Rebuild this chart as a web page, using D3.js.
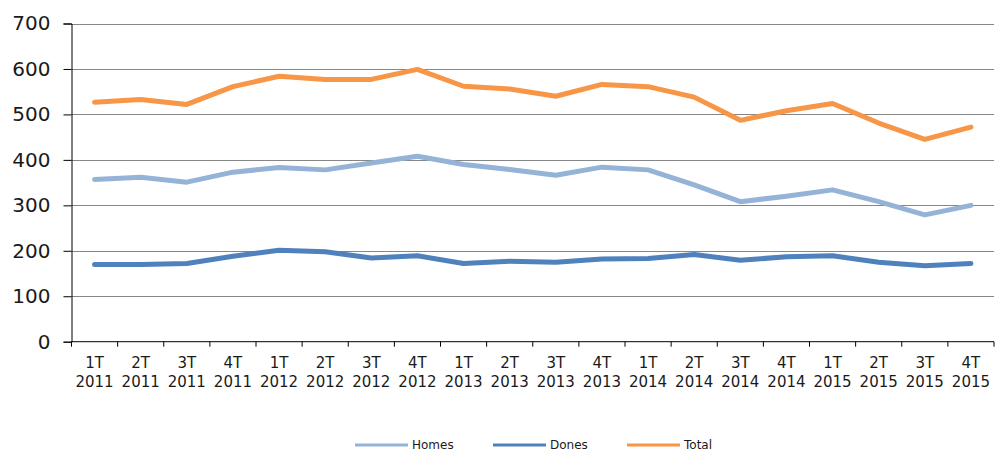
<!DOCTYPE html>
<html>
<head>
<meta charset="utf-8">
<script src="https://cdn.jsdelivr.net/npm/d3@7"></script>
<style>
  body { margin: 0; background: #fff; }
  svg { display: block; font-family: "DejaVu Sans", Verdana, sans-serif; }
</style>
</head>
<body>
<svg id="chart" width="995" height="453"></svg>
<script>
// quarters and years for the x axis
const quarters = ["1T","2T","3T","4T","1T","2T","3T","4T","1T","2T","3T","4T","1T","2T","3T","4T","1T","2T","3T","4T"];
const years = ["2011","2011","2011","2011","2012","2012","2012","2012","2013","2013","2013","2013","2014","2014","2014","2014","2015","2015","2015","2015"];

// series values
const homes = [357, 362, 351, 373, 383, 378, 393, 408, 390, 379, 366, 384, 378, 345, 308, 320, 334, 308, 279, 300];
const dones = [170, 170, 172, 188, 201, 198, 184, 189, 172, 177, 175, 182, 183, 192, 179, 187, 189, 175, 167, 172];
const total = [527, 533, 522, 561, 584, 577, 577, 599, 562, 556, 540, 566, 561, 538, 487, 508, 524, 481, 445, 472];

const yTicks = [0, 100, 200, 300, 400, 500, 600, 700];

const series = [
  {name: "Homes", values: homes, color: "#95b3d7"},
  {name: "Dones", values: dones, color: "#4f81bd"},
  {name: "Total", values: total, color: "#f79646"}
];

let svg = d3.select("#chart");
let margin = {left: 71.5, right: 1, top: 23.5, bottom: 111.3};
let width = 995, height = 453;

let idx = d3.range(quarters.length);
let x = d3.scaleBand().domain(idx).range([margin.left, width - margin.right]);
let y = d3.scaleLinear().domain([0, 700]).range([height - margin.bottom, margin.top]);

// gridlines
svg.append("g")
  .selectAll("line")
  .data(yTicks.slice(1))
  .join("line")
  .attr("x1", margin.left)
  .attr("x2", width - margin.right)
  .attr("y1", d => Math.round(y(d)) + 0.5)
  .attr("y2", d => Math.round(y(d)) + 0.5)
  .attr("stroke", "#868686")
  .attr("stroke-width", 1);

// y axis
let yAxis = svg.append("g")
  .attr("transform", `translate(${margin.left},0)`)
  .call(d3.axisLeft(y).tickValues(yTicks).tickSize(8).tickPadding(13).tickFormat(d3.format("d")));
yAxis.select(".domain").attr("stroke", "#000");
yAxis.selectAll(".tick line").attr("stroke", "#000");
yAxis.selectAll("text").attr("font-size", 20).attr("fill", "#1a1a1a").attr("font-family", "DejaVu Sans");

// x axis
let xAxis = svg.append("g")
  .attr("transform", `translate(0,${y(0)})`);
xAxis.append("line")
  .attr("x1", margin.left).attr("x2", width - margin.right)
  .attr("stroke", "#000");
xAxis.selectAll("line.tk")
  .data(idx.concat([quarters.length]))
  .join("line")
  .attr("class", "tk")
  .attr("x1", d => d < quarters.length ? x(d) : x.range()[1])
  .attr("x2", d => d < quarters.length ? x(d) : x.range()[1])
  .attr("y1", 0).attr("y2", 5)
  .attr("stroke", "#000");
let xl = xAxis.selectAll("text")
  .data(idx)
  .join("text")
  .attr("x", d => x(d) + x.bandwidth() / 2)
  .attr("text-anchor", "middle")
  .attr("font-size", 15)
  .attr("fill", "#1a1a1a");
xl.append("tspan").attr("x", d => x(d) + x.bandwidth() / 2).attr("y", 26).text(d => quarters[d]);
xl.append("tspan").attr("x", d => x(d) + x.bandwidth() / 2).attr("y", 45).text(d => years[d]);

// lines
let line = d3.line()
  .x((d, i) => x(i) + x.bandwidth() / 2)
  .y(d => y(d));

svg.append("g")
  .selectAll("path")
  .data(series)
  .join("path")
  .attr("fill", "none")
  .attr("stroke", d => d.color)
  .attr("stroke-width", 5)
  .attr("stroke-linejoin", "round")
  .attr("stroke-linecap", "round")
  .attr("d", d => line(d.values));

// legend
let legendX = [355, 493, 627];
let lg = svg.append("g")
  .selectAll("g")
  .data(series)
  .join("g")
  .attr("transform", (d, i) => `translate(${legendX[i]},445)`);
lg.append("line")
  .attr("x1", 0).attr("x2", 53)
  .attr("stroke", d => d.color)
  .attr("stroke-width", 3);
lg.append("text")
  .attr("x", 57)
  .attr("dy", "0.35em")
  .attr("font-size", 12)
  .attr("fill", "#1a1a1a")
  .text(d => d.name);
</script>
</body>
</html>
